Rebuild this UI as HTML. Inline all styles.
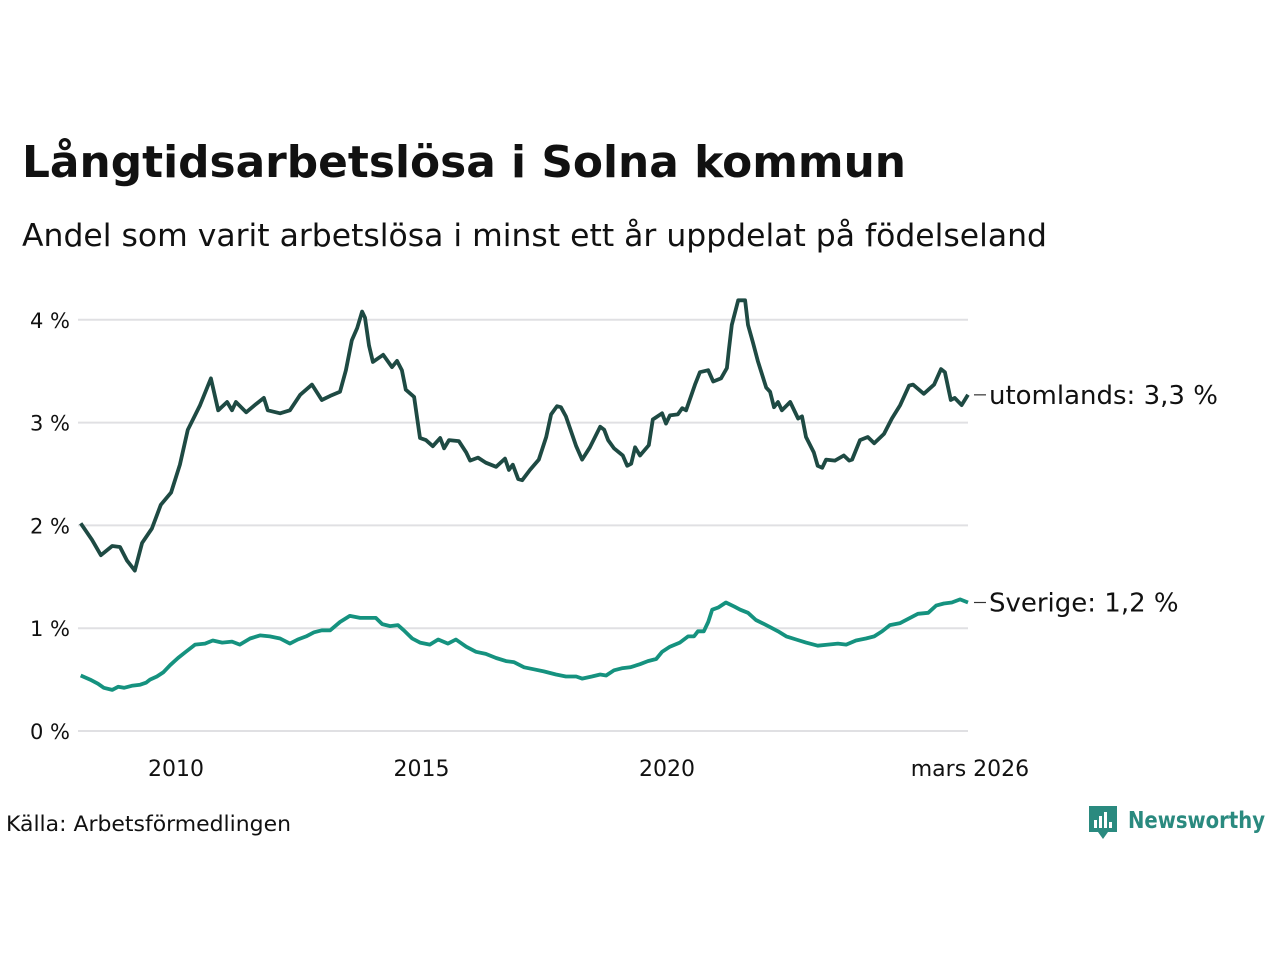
<!DOCTYPE html>
<html><head><meta charset="utf-8"><style>
body{margin:0;background:#fff;font-family:"Liberation Sans","DejaVu Sans",sans-serif}
#wrap{position:relative;width:1280px;height:960px;overflow:hidden}
</style></head><body>
<div id="wrap">
<svg id="chart" width="1280" height="960">
<text x="22" y="177" font-size="44" font-weight="bold" fill="#111" font-family="DejaVu Sans, sans-serif" textLength="884" lengthAdjust="spacingAndGlyphs">Långtidsarbetslösa i Solna kommun</text>
<text x="22" y="246" font-size="31" fill="#111" font-family="DejaVu Sans, sans-serif" textLength="1025" lengthAdjust="spacingAndGlyphs">Andel som varit arbetslösa i minst ett år uppdelat på födelseland</text>
<text x="6" y="831" font-size="21" fill="#111" font-family="DejaVu Sans, sans-serif" textLength="285" lengthAdjust="spacingAndGlyphs">Källa: Arbetsförmedlingen</text>
<g>
<path d="M1089 806 h28 v26 h-9 l-5 7 l-5 -7 h-9 z" fill="#2a8a7f"/>
<rect x="1094" y="820" width="3" height="8" fill="#fff"/><rect x="1099" y="816" width="3" height="12" fill="#fff"/><rect x="1104" y="812" width="3" height="16" fill="#fff"/><rect x="1109" y="822" width="3" height="6" fill="#fff"/>
<text x="1128" y="828" font-size="23" font-weight="bold" fill="#2a8a7f" font-family="DejaVu Sans, sans-serif" textLength="137" lengthAdjust="spacingAndGlyphs">Newsworthy</text>
</g>
<g id="grid"></g><g id="series"></g>
</svg>
</div>
<script>
const yTicks=[0,1,2,3,4];
const yTickLabels=["0 %","1 %","2 %","3 %","4 %"];
const xTicks=[2010,2015,2020,2026.17];
const xTickLabels=["2010","2015","2020","mars 2026"];
const utYears=[2008.06,2008.29,2008.47,2008.70,2008.86,2009.00,2009.16,2009.31,2009.51,2009.69,2009.90,2010.08,2010.24,2010.49,2010.71,2010.86,2011.04,2011.14,2011.22,2011.43,2011.63,2011.79,2011.87,2012.12,2012.32,2012.53,2012.77,2012.97,2013.14,2013.34,2013.46,2013.58,2013.69,2013.79,2013.85,2013.93,2014.01,2014.22,2014.40,2014.50,2014.60,2014.68,2014.85,2014.97,2015.09,2015.23,2015.38,2015.46,2015.56,2015.76,2015.91,2015.99,2016.15,2016.31,2016.52,2016.70,2016.78,2016.86,2016.97,2017.05,2017.21,2017.39,2017.54,2017.64,2017.76,2017.84,2017.94,2018.15,2018.27,2018.43,2018.64,2018.72,2018.80,2018.92,2019.10,2019.19,2019.27,2019.35,2019.45,2019.63,2019.71,2019.90,2019.98,2020.06,2020.22,2020.31,2020.39,2020.57,2020.67,2020.84,2020.94,2021.10,2021.22,2021.26,2021.32,2021.45,2021.59,2021.65,2021.75,2021.85,2022.02,2022.10,2022.18,2022.26,2022.34,2022.51,2022.67,2022.75,2022.83,2022.99,2023.07,2023.16,2023.24,2023.42,2023.60,2023.71,2023.77,2023.93,2024.09,2024.22,2024.42,2024.58,2024.75,2024.93,2025.01,2025.23,2025.44,2025.58,2025.66,2025.78,2025.86,2026.00,2026.13];
const utValues=[2.02,1.86,1.71,1.80,1.79,1.66,1.56,1.83,1.97,2.20,2.32,2.59,2.93,3.17,3.43,3.12,3.20,3.12,3.20,3.10,3.18,3.24,3.12,3.09,3.12,3.27,3.37,3.22,3.26,3.30,3.51,3.80,3.92,4.08,4.02,3.75,3.59,3.66,3.54,3.60,3.51,3.32,3.25,2.85,2.83,2.77,2.85,2.75,2.83,2.82,2.71,2.63,2.66,2.61,2.57,2.65,2.54,2.59,2.45,2.44,2.54,2.64,2.86,3.08,3.16,3.15,3.06,2.77,2.64,2.76,2.96,2.93,2.83,2.75,2.68,2.58,2.60,2.76,2.68,2.78,3.03,3.09,2.99,3.07,3.08,3.14,3.12,3.37,3.49,3.51,3.40,3.43,3.53,3.71,3.95,4.19,4.19,3.95,3.78,3.60,3.34,3.30,3.15,3.20,3.12,3.20,3.04,3.06,2.86,2.71,2.58,2.56,2.64,2.63,2.68,2.63,2.64,2.83,2.86,2.80,2.89,3.04,3.17,3.36,3.37,3.28,3.37,3.52,3.49,3.22,3.24,3.17,3.27];
const svYears=[2008.06,2008.25,2008.41,2008.53,2008.70,2008.82,2008.94,2009.10,2009.27,2009.39,2009.47,2009.61,2009.74,2009.88,2010.04,2010.20,2010.39,2010.59,2010.75,2010.94,2011.14,2011.30,2011.51,2011.71,2011.91,2012.12,2012.32,2012.48,2012.65,2012.81,2012.97,2013.14,2013.34,2013.54,2013.75,2013.91,2014.07,2014.20,2014.36,2014.52,2014.64,2014.81,2014.97,2015.17,2015.34,2015.54,2015.70,2015.91,2016.11,2016.31,2016.52,2016.72,2016.88,2017.09,2017.29,2017.49,2017.74,2017.94,2018.15,2018.27,2018.47,2018.64,2018.76,2018.92,2019.08,2019.25,2019.45,2019.61,2019.78,2019.90,2020.06,2020.26,2020.43,2020.55,2020.63,2020.75,2020.84,2020.92,2021.04,2021.20,2021.37,2021.49,2021.65,2021.81,2021.98,2022.14,2022.26,2022.43,2022.63,2022.83,2023.07,2023.28,2023.48,2023.65,2023.85,2024.05,2024.22,2024.38,2024.54,2024.75,2024.95,2025.11,2025.32,2025.48,2025.64,2025.80,2025.97,2026.13];
const svValues=[0.54,0.50,0.46,0.42,0.40,0.43,0.42,0.44,0.45,0.47,0.50,0.53,0.57,0.64,0.71,0.77,0.84,0.85,0.88,0.86,0.87,0.84,0.90,0.93,0.92,0.90,0.85,0.89,0.92,0.96,0.98,0.98,1.06,1.12,1.10,1.10,1.10,1.04,1.02,1.03,0.98,0.90,0.86,0.84,0.89,0.85,0.89,0.82,0.77,0.75,0.71,0.68,0.67,0.62,0.60,0.58,0.55,0.53,0.53,0.51,0.53,0.55,0.54,0.59,0.61,0.62,0.65,0.68,0.70,0.77,0.82,0.86,0.92,0.92,0.97,0.97,1.06,1.18,1.20,1.25,1.21,1.18,1.15,1.08,1.04,1.00,0.97,0.92,0.89,0.86,0.83,0.84,0.85,0.84,0.88,0.90,0.92,0.97,1.03,1.05,1.10,1.14,1.15,1.22,1.24,1.25,1.28,1.25];
const seriesLabels=["utomlands: 3,3 %","Sverige: 1,2 %"];

const NS="http://www.w3.org/2000/svg";
function xs(t){return 176+(t-2010)*49.1;}
function ys(v){return 731-v*102.8;}
const grid=document.getElementById('grid'),ser=document.getElementById('series');
function mk(tag,attrs,parent){const e=document.createElementNS(NS,tag);for(const k in attrs)e.setAttribute(k,attrs[k]);parent.appendChild(e);return e;}
yTicks.forEach((v,i)=>{
 const l=mk('line',{x1:78,x2:968,y1:ys(v),y2:ys(v),stroke:'#e0e0e3','stroke-width':2},grid);
 
 
 const t=mk('text',{x:70,y:ys(v)+8,'text-anchor':'end','font-size':21,fill:'#111','font-family':'DejaVu Sans, sans-serif'},grid);
 t.textContent=yTickLabels[i];
 
 
});
xTicks.forEach((v,i)=>{
 const t=mk('text',{x:xs(v),y:776,'text-anchor':'middle','font-size':22,fill:'#111','font-family':'DejaVu Sans, sans-serif'},grid);
 t.textContent=xTickLabels[i];
 
 
});
function drawLine(years,vals,color,label,name){
 const d=years.map((t,i)=>(i?'L':'M')+xs(t).toFixed(1)+' '+ys(vals[i]).toFixed(1)).join(' ');
 const p=mk('path',{d:d,fill:'none',stroke:color,'stroke-width':3.8,'stroke-linejoin':'round'},ser);
 
 
 const lx=xs(years[years.length-1]),ly=ys(vals[vals.length-1]);
 const c=mk('line',{x1:lx+6,x2:lx+18,y1:ly,y2:ly,stroke:'#333','stroke-width':1.2},ser);
 
 
 const t=mk('text',{x:lx+21,y:ly+9,'font-size':26,fill:'#111','font-family':'DejaVu Sans, sans-serif'},ser);
 t.textContent=label;
 
 
}
drawLine(utYears,utValues,'#1e4a43',seriesLabels[0],'utomlands');
drawLine(svYears,svValues,'#15927f',seriesLabels[1],'sverige');
</script>
</body></html>
